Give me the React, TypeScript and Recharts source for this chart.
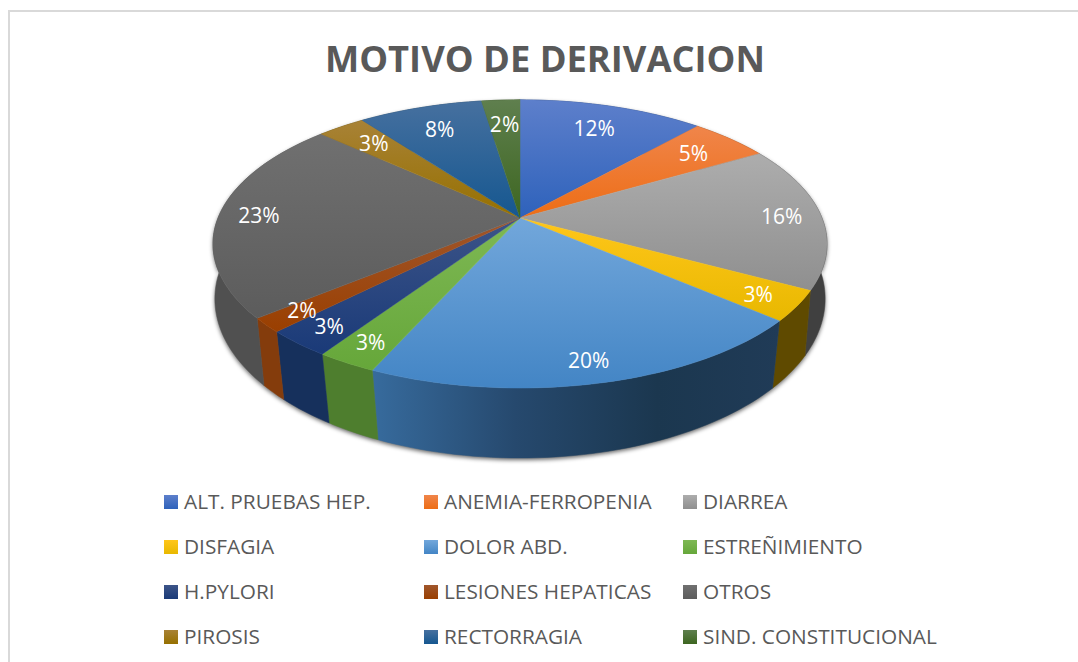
import * as React from "react";
import { PieChart, Pie, Legend } from "recharts";

const NAMES = [
  "ALT. PRUEBAS HEP.",
  "ANEMIA-FERROPENIA",
  "DIARREA",
  "DISFAGIA",
  "DOLOR ABD.",
  "ESTREÑIMIENTO",
  "H.PYLORI",
  "LESIONES HEPATICAS",
  "OTROS",
  "PIROSIS",
  "RECTORRAGIA",
  "SIND. CONSTITUCIONAL",
];
const VALUES = [11.6, 5, 16.3, 3.4, 20.4, 2.7, 3, 1.6, 22.8, 3, 7.8, 2.4];
const TOP_LIGHT = ["#5d7fcb", "#f0854a", "#adadad", "#ffc61a", "#72a7db", "#7eb854", "#3c5488", "#a0562c", "#707070", "#a88236", "#46709f", "#5f7f4e"];
const TOP_BASE = ["#2e62bb", "#ed6d15", "#8f8f8f", "#e8b800", "#4385c5", "#66a73a", "#1a3a78", "#9a3f00", "#5c5c5c", "#967000", "#155790", "#3d6620"];
const WALL = ["#1f3f78", "#8f4312", "#404040", "#5f4a00", "#1f3d5a", "#4e7e2e", "#16305c", "#843c0c", "#505050", "#5f4a00", "#123a5c", "#274012"];

const tableData = NAMES.map((name, i) => ({ name, value: VALUES[i], fill: `url(#top-${i})` }));

// fake the excel 3d tilt: top face and bottom rim are circles seen in perspective
const TOP_RIM = { persp: 0.18, squash: 139.4 / 302, drop: 0 };
const BOTTOM_RIM = { persp: 0.143, squash: 156 / 302, drop: 58 };

function project(cx: number, cy: number, r: number, deg: number, rim = TOP_RIM) {
  const rad = (deg * Math.PI) / 180;
  const u = Math.cos(rad);
  const v = -Math.sin(rad);
  const w = 1 / (1 - rim.persp * v);
  return [cx + r * u * w, cy + rim.drop + r * rim.squash * v * w];
}

function arcPoints(p: any, rim = TOP_RIM) {
  const pts: number[][] = [];
  const steps = Math.max(2, Math.ceil(Math.abs(p.endAngle - p.startAngle) / 1.5));
  for (let i = 0; i <= steps; i++) {
    const a = p.startAngle + ((p.endAngle - p.startAngle) * i) / steps;
    pts.push(project(p.cx, p.cy, p.outerRadius, a, rim));
  }
  return pts;
}

const toPath = (pts: number[][]) =>
  "M" + pts.map((q) => `${q[0].toFixed(2)},${q[1].toFixed(2)}`).join("L") + "Z";

function TopSlice(p: any) {
  const fill = p.payload?.fill ?? p.fill;
  const pts = [[p.cx, p.cy], ...arcPoints(p)];
  return <path d={toPath(pts)} fill={fill} stroke={fill} strokeWidth={0.5} />;
}

function WallSlice(p: any) {
  const idx = NAMES.indexOf(p.payload?.name ?? p.name);
  const pts = [...arcPoints(p), ...arcPoints(p, BOTTOM_RIM).reverse()];
  return <path d={toPath(pts)} fill={`url(#wall-${idx})`} stroke={`url(#wall-${idx})`} strokeWidth={0.5} />;
}

function ShadowSlice(p: any) {
  const pts = [...arcPoints(p), ...arcPoints(p, BOTTOM_RIM).reverse()];
  return <path d={toPath(pts)} fill="rgba(0,0,0,0.6)" filter="url(#wall-shadow)" transform="translate(0,2)" />;
}

function PctLabel(p: any) {
  const v = -Math.sin((p.midAngle * Math.PI) / 180);
  const f = v < 0 ? 0.87 + 0.07 * v : 0.86;
  const [x, y] = project(p.cx, p.cy, p.outerRadius * f, p.midAngle);
  return (
    <text x={x} y={y} fill="#ffffff" fontSize={21} fontFamily="'Open Sans'" textAnchor="middle" dominantBaseline="central">
      {Math.round(p.percent * 100)}%
    </text>
  );
}

function LegendGrid({ payload }: any) {
  // all three pie layers report their entries, keep one of each
  const seen = new Set();
  const items = (payload ?? []).filter((e: any) => {
    if (seen.has(e.value)) return false;
    seen.add(e.value);
    return true;
  });
  return (
    <div style={{ display: "grid", gridTemplateColumns: "260px 259px 300px", gridAutoRows: "45px" }}>
      {items.map((e: any) => (
        <div key={e.value} style={{ display: "flex", alignItems: "center", height: 14 }}>
          <svg width={14} height={14} style={{ marginRight: 6, flex: "none" }}>
            <rect width={14} height={14} fill={`url(#top-${NAMES.indexOf(e.value)})`} />
          </svg>
          <span style={{ fontFamily: "'Open Sans'", fontSize: 20.8, color: "#595959", whiteSpace: "nowrap", position: "relative", top: -1 }}>{e.value}</span>
        </div>
      ))}
    </div>
  );
}

export default function App() {
  return (
    <div style={{ position: "absolute", left: 0, top: 0, width: 1078, height: 662, background: "#fff", overflow: "hidden" }}>
      <div style={{ position: "absolute", left: 8, top: 10, right: 0, bottom: 0, borderTop: "2px solid #d9d9d9", borderLeft: "2px solid #d9d9d9" }} />
      <div
        style={{
          position: "absolute",
          left: 0,
          top: 33,
          width: 1090,
          textAlign: "center",
          fontFamily: "'Open Sans'",
          fontWeight: 700,
          fontSize: 36.3,
          lineHeight: "50px",
          color: "#595959",
          whiteSpace: "nowrap",
        }}
      >
        MOTIVO DE DERIVACION
      </div>
      <PieChart width={1078} height={662} margin={{ top: 0, right: 0, bottom: 0, left: 0 }} style={{ position: "absolute", left: 0, top: 0 }}>
        <defs>
          <filter id="wall-shadow" x="-10%" y="-10%" width="120%" height="120%">
            <feGaussianBlur stdDeviation={2} />
          </filter>
          {NAMES.map((_, i) => (
            <linearGradient key={i} id={`top-${i}`} x1="0" y1="0" x2="0" y2="1">
              <stop offset="0%" stopColor={TOP_LIGHT[i]} />
              <stop offset="100%" stopColor={TOP_BASE[i]} />
            </linearGradient>
          ))}
          {NAMES.map((_, i) =>
            i === 4 ? (
              <linearGradient key={i} id={`wall-${i}`} x1="0" y1="0" x2="1" y2="0">
                <stop offset="0%" stopColor="#376b9d" />
                <stop offset="35%" stopColor="#26496e" />
                <stop offset="70%" stopColor="#1b374f" />
                <stop offset="100%" stopColor="#203b57" />
              </linearGradient>
            ) : (
              <linearGradient key={i} id={`wall-${i}`} x1="0" y1="0" x2="1" y2="0">
                <stop offset="0%" stopColor={WALL[i]} />
                <stop offset="100%" stopColor={WALL[i]} />
              </linearGradient>
            )
          )}
        </defs>
        <Pie data={tableData} dataKey="value" nameKey="name" cx={520} cy={218} outerRadius={302} startAngle={90} endAngle={-270} legendType="none" shape={ShadowSlice} isAnimationActive={false} />
        <Pie data={tableData} dataKey="value" nameKey="name" cx={520} cy={218} outerRadius={302} startAngle={90} endAngle={-270} legendType="none" shape={WallSlice} isAnimationActive={false} />
        <Pie data={tableData} dataKey="value" nameKey="name" cx={520} cy={218} outerRadius={302} startAngle={90} endAngle={-270} shape={TopSlice} label={PctLabel} labelLine={false} isAnimationActive={false} />
        <Legend content={LegendGrid} wrapperStyle={{ position: "absolute", left: 164, top: 495, width: 830, bottom: "auto" }} />
      </PieChart>
    </div>
  );
}
